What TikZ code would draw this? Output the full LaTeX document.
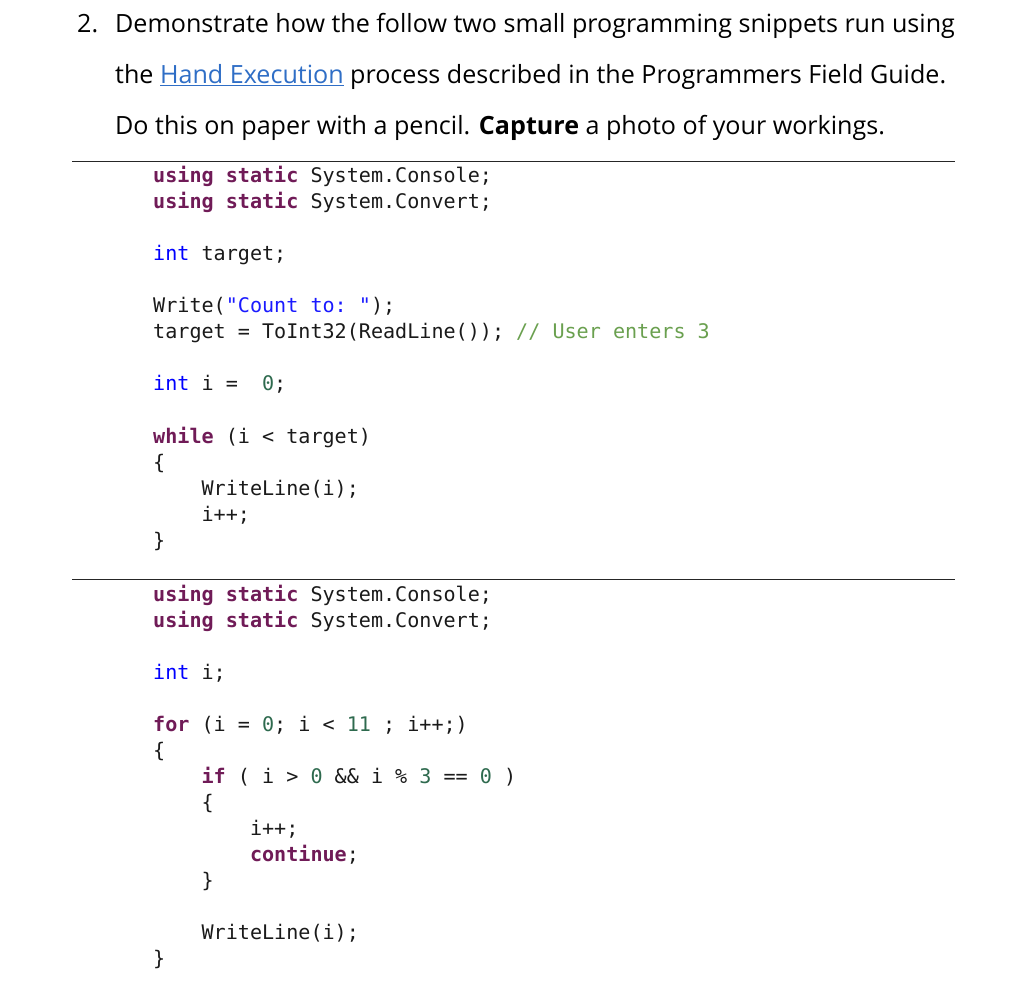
\documentclass[tikz,border=0pt]{standalone}
\usepackage{fontspec}
\setmainfont{Open Sans}
\setmonofont{DejaVu Sans Mono}
\definecolor{kwc}{HTML}{701B57}
\definecolor{tyc}{HTML}{0000FF}
\definecolor{strc}{HTML}{1A1AFF}
\definecolor{cmtc}{HTML}{6AA04F}
\definecolor{numc}{HTML}{2E6A4E}
\definecolor{txtc}{HTML}{1A1A1A}
\definecolor{linkc}{HTML}{2F6EC6}
\newcommand\CKw[1]{\textcolor{kwc}{\bfseries #1}}
\newcommand\CTy[1]{\textcolor{tyc}{#1}}
\newcommand\CStr[1]{\textcolor{strc}{#1}}
\newcommand\CCmt[1]{\textcolor{cmtc}{#1}}
\newcommand\CNum[1]{\textcolor{numc}{#1}}
\tikzset{
  title/.style={anchor=base west, inner sep=0pt, text=black, font=\fontsize{25.1}{30}\selectfont},
  code/.style={anchor=base west, inner sep=0pt, text=txtc, font=\fontsize{20.1}{26}\selectfont\ttfamily},
  rule/.style={draw=black!85, line width=1pt}
}
\begin{document}
\begin{tikzpicture}[x=1pt,y=-1pt]
\useasboundingbox[fill=white] (0,0) rectangle (1018,992);
% title
\node[title] (num) at (77,33) {2.};
\node[title] (t1) at (115,33) {Demonstrate how the follow two small programming snippets run using};
\node[title] (t2) at (115,84) {the \textcolor{linkc}{\underline{Hand Execution}} process described in the Programmers Field Guide.};
\node[title] (t3) at (115,135) {Do this on paper with a pencil. \textbf{Capture} a photo of your workings.};
\draw[rule] (72,161.5) -- (955,161.5);
% snippet 1
\node[code] (a1) at (153,183) {\CKw{using static} System.Console;};
\node[code] (a2) at (153,209) {\CKw{using static} System.Convert;};
\node[code] (a3) at (153,261) {\CTy{int} target;};
\node[code] (a4) at (153,313) {Write(\CStr{"Count to: "});};
\node[code] (a5) at (153,339) {target = ToInt32(ReadLine()); \CCmt{// User enters 3}};
\node[code] (a6) at (153,391) {\CTy{int} i =~~\CNum{0};};
\node[code] (a7) at (153,443) {\CKw{while} (i < target)};
\node[code] (a8) at (153,469) {\{};
\node[code] (a9) at (201.4,495) {WriteLine(i);};
\node[code] (a10) at (201.4,521) {i++;};
\node[code] (a11) at (153,547) {\}};
\draw[rule] (72,579.5) -- (955,579.5);
% snippet 2
\node[code] (b1) at (153,601) {\CKw{using static} System.Console;};
\node[code] (b2) at (153,627) {\CKw{using static} System.Convert;};
\node[code] (b3) at (153,679) {\CTy{int} i;};
\node[code] (b4) at (153,731) {\CKw{for} (i = \CNum{0}; i < \CNum{11} ; i++;)};
\node[code] (b5) at (153,757) {\{};
\node[code] (b6) at (201.4,783) {\CKw{if} ( i > \CNum{0} \&\& i \% \CNum{3} == \CNum{0} )};
\node[code] (b7) at (201.4,809) {\{};
\node[code] (b8) at (249.8,835) {i++;};
\node[code] (b9) at (249.8,861) {\CKw{continue};};
\node[code] (b10) at (201.4,887) {\}};
\node[code] (b11) at (201.4,939) {WriteLine(i);};
\node[code] (b12) at (153,965) {\}};
\end{tikzpicture}
\end{document}
